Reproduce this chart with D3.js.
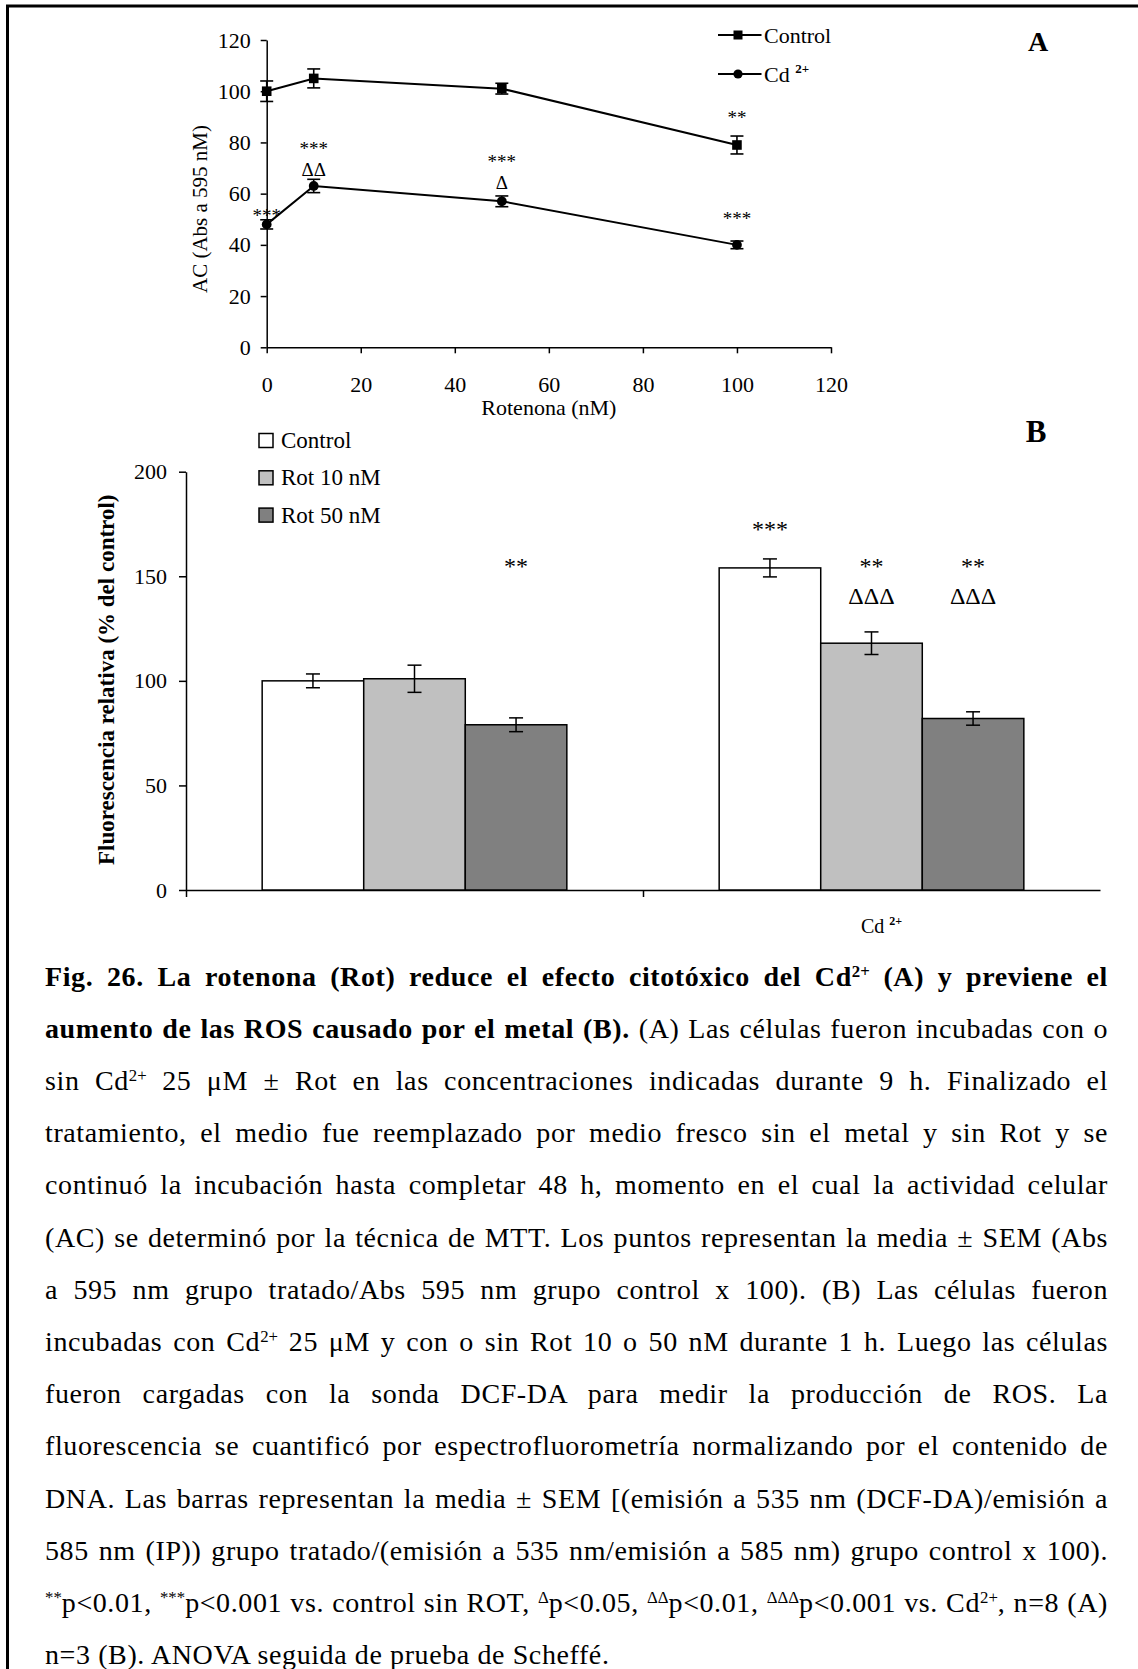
<!DOCTYPE html>
<html>
<head>
<meta charset="utf-8">
<script src="https://cdn.jsdelivr.net/npm/d3@7"></script>
<style>
body { margin: 0; background: #fff; }
#fig { position: relative; width: 1138px; height: 1669px; overflow: hidden; background: #fff; }
#fig svg { position: absolute; left: 0; top: 0; }
.cap { position: absolute; left: 45px; white-space: nowrap; color: #000;
       font-family: 'Book Antiqua', 'Palatino Linotype', Palatino, 'Liberation Serif', serif;
       font-size: 28px; line-height: 28px; letter-spacing: 0.6px; }
.cap sup { font-size: 0.6em; vertical-align: 0.55em; line-height: 0; letter-spacing: 0; }
</style>
</head>
<body>
<div id="fig"></div>
<script>
// ---- panel A: actividad celular vs rotenona ----
var rotDoses = [0, 10, 50, 100];
var acControl = [100, 105, 101, 79];
var acControlErr = [4, 3.7, 2.1, 3.5];
var acCd = [48, 63, 57, 40];
var acCdErr = [1.8, 2.6, 2.1, 1.5];
var ticksA = [0, 20, 40, 60, 80, 100, 120];

// significance marks of panel A: dose, label, height (in AC units)
var marksADose = [0, 10, 10, 50, 50, 100, 100];
var marksAText = ['***', '***', '\u0394\u0394', '***', '\u0394', '**', '***'];
var marksALevel = [52.6, 78.6, 69.2, 73.5, 64.3, 90.7, 51.3];

// ---- panel B: fluorescencia relativa ----
var groupsB = ['', 'Cd'];
var seriesB = ['Control', 'Rot 10 nM', 'Rot 50 nM'];
var fluoSinCd = [100, 101, 79];
var fluoSinCdErr = [3.3, 6.5, 3.3];
var fluoCd = [154, 118, 82];
var fluoCdErr = [4.3, 5.4, 3.2];
var ticksB = [0, 50, 100, 150, 200];
var colorsB = ['#ffffff', '#c0c0c0', '#808080'];

// significance marks of panel B: group, series, label, height (in % units)
var marksBGroup = ['', 'Cd', 'Cd', 'Cd', 'Cd', 'Cd'];
var marksBSeries = ['Rot 50 nM', 'Control', 'Rot 10 nM', 'Rot 10 nM', 'Rot 50 nM', 'Rot 50 nM'];
var marksBText = ['**', '***', '**', '\u0394\u0394\u0394', '**', '\u0394\u0394\u0394'];
var marksBLevel = [156.5, 174.2, 156.5, 140.7, 156.5, 140.7];

var serifA = "'Times New Roman', 'Liberation Serif', serif";
var serifB = "'Book Antiqua', 'Palatino Linotype', 'Liberation Serif', serif";

var svg = d3.select('#fig').append('svg')
    .attr('width', 1138)
    .attr('height', 1669);

// page frame (right and bottom edges fall outside the picture)
svg.append('rect')
    .attr('x', 7.5).attr('y', 6)
    .attr('width', 1300).attr('height', 1800)
    .attr('fill', 'none').attr('stroke', '#000').attr('stroke-width', 3);

// put the visual centre of a mark at cy
function markBaseline(txt, cy, fs) {
    return txt.indexOf('*') >= 0 ? cy + 0.47 * fs : cy + 0.33 * fs;
}

function styleAxis(g, family, size) {
    g.attr('font-family', family).attr('font-size', size);
    g.selectAll('path, line').attr('stroke', '#000').attr('stroke-width', 1.5);
    g.selectAll('text').attr('fill', '#000');
}

// =================== A ===================
var xA = d3.scaleLinear().domain([0, 120]).range([266.7, 831]);
var yA = d3.scaleLinear().domain([0, 120]).range([347.3, 40]);

var gA = svg.append('g');

gA.append('g')
    .attr('transform', 'translate(0,' + yA(0) + ')')
    .call(d3.axisBottom(xA).tickValues(ticksA).tickSize(6).tickSizeOuter(0).tickPadding(23))
    .call(styleAxis, serifA, 22);

gA.append('g')
    .attr('transform', 'translate(' + xA(0) + ',0)')
    .call(d3.axisLeft(yA).tickValues(ticksA).tickSize(6).tickSizeOuter(0).tickPadding(10))
    .call(styleAxis, serifA, 22);

gA.append('text')
    .attr('x', (xA.range()[0] + xA.range()[1]) / 2)
    .attr('y', yA(0) + 68)
    .attr('text-anchor', 'middle')
    .attr('font-family', serifA).attr('font-size', 22)
    .text('Rotenona (nM)');

gA.append('text')
    .attr('transform', 'translate(' + (xA(0) - 60) + ',' + yA(54) + ') rotate(-90)')
    .attr('text-anchor', 'middle')
    .attr('font-family', serifA).attr('font-size', 21)
    .text('AC (Abs a 595 nM)');

var seriesA = [
    {name: 'Control', vals: acControl, errs: acControlErr, shape: 'square'},
    {name: 'Cd', vals: acCd, errs: acCdErr, shape: 'circle'}
];

var lineA = d3.line()
    .x(function(d) { return xA(d.x); })
    .y(function(d) { return yA(d.y); });

seriesA.forEach(function(s) {
    var pts = rotDoses.map(function(x, i) { return {x: x, y: s.vals[i], e: s.errs[i]}; });

    gA.append('path')
        .datum(pts)
        .attr('d', lineA)
        .attr('fill', 'none').attr('stroke', '#000').attr('stroke-width', 2);

    var eb = gA.append('g').selectAll('g').data(pts).enter().append('g')
        .attr('stroke', '#000').attr('stroke-width', 1.6);
    eb.append('line')
        .attr('x1', d => xA(d.x)).attr('x2', d => xA(d.x))
        .attr('y1', d => yA(d.y - d.e)).attr('y2', d => yA(d.y + d.e));
    eb.append('line')
        .attr('x1', d => xA(d.x) - 6.5).attr('x2', d => xA(d.x) + 6.5)
        .attr('y1', d => yA(d.y + d.e)).attr('y2', d => yA(d.y + d.e));
    eb.append('line')
        .attr('x1', d => xA(d.x) - 6.5).attr('x2', d => xA(d.x) + 6.5)
        .attr('y1', d => yA(d.y - d.e)).attr('y2', d => yA(d.y - d.e));

    if (s.shape == 'square') {
        gA.append('g').selectAll('rect').data(pts).enter().append('rect')
            .attr('x', d => xA(d.x) - 4.8).attr('y', d => yA(d.y) - 4.8)
            .attr('width', 9.6).attr('height', 9.6).attr('fill', '#000');
    } else {
        gA.append('g').selectAll('circle').data(pts).enter().append('circle')
            .attr('cx', d => xA(d.x)).attr('cy', d => yA(d.y))
            .attr('r', 4.9).attr('fill', '#000');
    }
});

gA.append('g').selectAll('text').data(marksAText).enter().append('text')
    .attr('x', (d, i) => xA(marksADose[i]))
    .attr('y', (d, i) => markBaseline(d, yA(marksALevel[i]), 19))
    .attr('text-anchor', 'middle')
    .attr('font-family', serifA).attr('font-size', 19)
    .text(d => d);

// legend A
var legA = gA.append('g');
[35, 74].forEach(function(ly, i) {
    legA.append('line')
        .attr('x1', 718).attr('x2', 761.5).attr('y1', ly).attr('y2', ly)
        .attr('stroke', '#000').attr('stroke-width', 2);
    if (i == 0) {
        legA.append('rect').attr('x', 733.5).attr('y', ly - 4.5)
            .attr('width', 9).attr('height', 9).attr('fill', '#000');
    } else {
        legA.append('circle').attr('cx', 738).attr('cy', ly).attr('r', 4.6).attr('fill', '#000');
    }
});
legA.append('text').attr('x', 764).attr('y', 42.5)
    .attr('font-family', serifA).attr('font-size', 22).text('Control');
var cdLeg = legA.append('text').attr('x', 764).attr('y', 81.5)
    .attr('font-family', serifA).attr('font-size', 22);
cdLeg.append('tspan').text('Cd ');
cdLeg.append('tspan').attr('font-size', 13).attr('font-weight', 'bold').attr('dy', -9).text('2+');

svg.append('text').attr('x', 1038).attr('y', 51)
    .attr('text-anchor', 'middle')
    .attr('font-family', serifA).attr('font-weight', 'bold').attr('font-size', 28)
    .text('A');

// =================== B ===================
var yB = d3.scaleLinear().domain([0, 200]).range([890, 471.7]);
var xB = d3.scaleBand().domain(groupsB).range([186, 1100]);
var xInner = d3.scaleBand().domain(seriesB)
    .range([xB.bandwidth() / 6, xB.bandwidth() * 5 / 6]);

var gB = svg.append('g');

// category boundaries for tick marks
var xEdges = d3.scaleLinear().domain([0, groupsB.length]).range(xB.range());
gB.append('g')
    .attr('transform', 'translate(0,' + yB(0) + ')')
    .call(d3.axisBottom(xEdges).tickValues(d3.range(groupsB.length)).tickFormat('')
          .tickSize(7).tickSizeOuter(0))
    .call(styleAxis, serifB, 22);

gB.append('g')
    .attr('transform', 'translate(' + xB.range()[0] + ',0)')
    .call(d3.axisLeft(yB).tickValues(ticksB).tickSize(7).tickSizeOuter(0).tickPadding(12))
    .call(styleAxis, serifB, 22);

gB.append('text')
    .attr('transform', 'translate(' + 114 + ',' + yB(100.5) + ') rotate(-90)')
    .attr('text-anchor', 'middle')
    .attr('font-family', serifB).attr('font-weight', 'bold').attr('font-size', 23)
    .text('Fluorescencia relativa (% del control)');

var barData = [];
groupsB.forEach(function(g, gi) {
    var vals = gi == 0 ? fluoSinCd : fluoCd;
    var errs = gi == 0 ? fluoSinCdErr : fluoCdErr;
    seriesB.forEach(function(s, si) {
        barData.push({group: g, series: s, v: vals[si], e: errs[si], color: colorsB[si]});
    });
});

gB.append('g').selectAll('rect').data(barData).enter().append('rect')
    .attr('x', d => xB(d.group) + xInner(d.series))
    .attr('width', xInner.bandwidth())
    .attr('y', d => yB(d.v))
    .attr('height', d => yB(0) - yB(d.v))
    .attr('fill', d => d.color)
    .attr('stroke', '#000').attr('stroke-width', 1.5);

var ebB = gB.append('g').selectAll('g').data(barData).enter().append('g')
    .attr('stroke', '#000').attr('stroke-width', 1.5);
function barMid(d) { return xB(d.group) + xInner(d.series) + xInner.bandwidth() / 2; }
ebB.append('line')
    .attr('x1', barMid).attr('x2', barMid)
    .attr('y1', d => yB(d.v - d.e)).attr('y2', d => yB(d.v + d.e));
ebB.append('line')
    .attr('x1', d => barMid(d) - 7).attr('x2', d => barMid(d) + 7)
    .attr('y1', d => yB(d.v + d.e)).attr('y2', d => yB(d.v + d.e));
ebB.append('line')
    .attr('x1', d => barMid(d) - 7).attr('x2', d => barMid(d) + 7)
    .attr('y1', d => yB(d.v - d.e)).attr('y2', d => yB(d.v - d.e));

gB.append('g').selectAll('text').data(marksBText).enter().append('text')
    .attr('x', (d, i) => xB(marksBGroup[i]) + xInner(marksBSeries[i]) + xInner.bandwidth() / 2)
    .attr('y', (d, i) => markBaseline(d, yB(marksBLevel[i]), 24))
    .attr('text-anchor', 'middle')
    .attr('font-family', serifB).attr('font-size', 24)
    .text(d => d);

// category label under the second group
var cdLab = gB.append('text')
    .attr('x', xB('Cd') + xB.bandwidth() / 2 + 10)
    .attr('y', yB(0) + 43)
    .attr('text-anchor', 'middle')
    .attr('font-family', serifB).attr('font-size', 20);
cdLab.append('tspan').text('Cd ');
cdLab.append('tspan').attr('font-size', 12).attr('font-weight', 'bold').attr('dy', -8).text('2+');

// legend B
var legB = gB.append('g').selectAll('g').data(seriesB).enter().append('g')
    .attr('transform', (d, i) => 'translate(259,' + (440.5 + i * 37.3) + ')');
legB.append('rect')
    .attr('x', 0).attr('y', -7).attr('width', 14).attr('height', 14)
    .attr('fill', (d, i) => colorsB[i]).attr('stroke', '#000').attr('stroke-width', 1.5);
legB.append('text')
    .attr('x', 22).attr('y', 7.5)
    .attr('font-family', serifB).attr('font-size', 23)
    .text(d => d);

svg.append('text').attr('x', 1036).attr('y', 441.5)
    .attr('text-anchor', 'middle')
    .attr('font-family', serifB).attr('font-weight', 'bold').attr('font-size', 31)
    .text('B');

// =================== caption ===================
var captionLines = [
    '<b>Fig. 26. La rotenona (Rot) reduce el efecto citot\u00f3xico del Cd<sup>2+</sup> (A) y previene el</b>',
    '<b>aumento de las ROS causado por el metal (B).</b> (A) Las c\u00e9lulas fueron incubadas con o',
    'sin Cd<sup>2+</sup> 25 \u03bcM \u00b1 Rot en las concentraciones indicadas durante 9 h. Finalizado el',
    'tratamiento, el medio fue reemplazado por medio fresco sin el metal y sin Rot y se',
    'continu\u00f3 la incubaci\u00f3n hasta completar 48 h, momento en el cual la actividad celular',
    '(AC) se determin\u00f3 por la t\u00e9cnica de MTT. Los puntos representan la media \u00b1 SEM (Abs',
    'a 595 nm grupo tratado/Abs 595 nm grupo control x 100). (B) Las c\u00e9lulas fueron',
    'incubadas con Cd<sup>2+</sup> 25 \u03bcM y con o sin Rot 10 o 50 nM durante 1 h. Luego las c\u00e9lulas',
    'fueron cargadas con la sonda DCF-DA para medir la producci\u00f3n de ROS. La',
    'fluorescencia se cuantific\u00f3 por espectrofluorometr\u00eda normalizando por el contenido de',
    'DNA. Las barras representan la media \u00b1 SEM [(emisi\u00f3n a 535 nm (DCF-DA)/emisi\u00f3n a',
    '585 nm (IP)) grupo tratado/(emisi\u00f3n a 535 nm/emisi\u00f3n a 585 nm) grupo control x 100).',
    '<sup>**</sup>p&lt;0.01, <sup>***</sup>p&lt;0.001 vs. control sin ROT, <sup>\u0394</sup>p&lt;0.05, <sup>\u0394\u0394</sup>p&lt;0.01, <sup>\u0394\u0394\u0394</sup>p&lt;0.001 vs. Cd<sup>2+</sup>, n=8 (A)',
    'n=3 (B). ANOVA seguida de prueba de Scheff\u00e9.'
];
var capWidth = 1063, capFirstBase = 986, capStep = 52.2;

var caps = d3.select('#fig').selectAll('div.cap').data(captionLines).enter().append('div')
    .attr('class', 'cap')
    .style('top', (d, i) => (capFirstBase + i * capStep - 23.5) + 'px')
    .html(d => d);

// justify every line except the last one by spreading the word gaps
caps.each(function(d, i) {
    if (i == captionLines.length - 1) return;
    var w = this.getBoundingClientRect().width;
    var gaps = (this.textContent.match(/ /g) || []).length;
    if (gaps > 0) d3.select(this).style('word-spacing', ((capWidth - w) / gaps) + 'px');
});
</script>
</body>
</html>
